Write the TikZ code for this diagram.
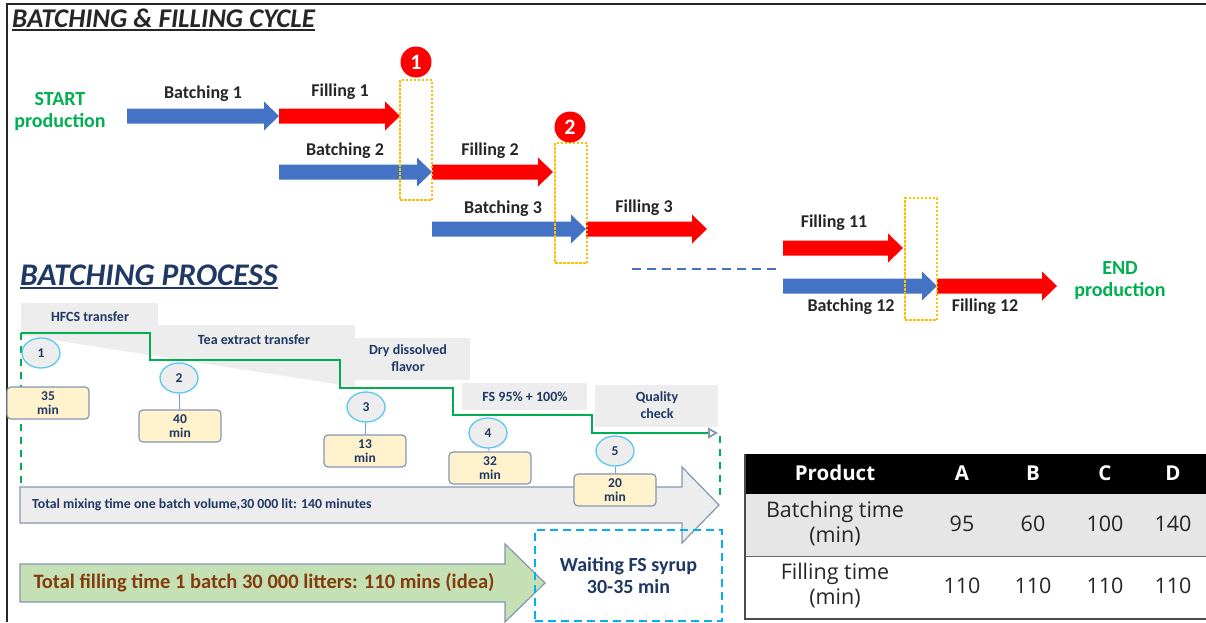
\documentclass[tikz,border=0pt]{standalone}
\usepackage{fontspec}
\setmainfont{Carlito}
\newfontfamily\tabfont{Open Sans}
\usetikzlibrary{arrows.meta,shapes.geometric}
\definecolor{myblue}{HTML}{4472C4}
\definecolor{myred}{HTML}{FF0000}
\definecolor{mygreen}{HTML}{00B050}
\definecolor{mynavy}{HTML}{1F3864}
\definecolor{mylgray}{HTML}{EDEDED}
\definecolor{myyellow}{HTML}{FFF2CC}
\definecolor{myborder}{HTML}{8497B0}
\definecolor{mycyan}{HTML}{5BC8F0}
\definecolor{myorange}{HTML}{FFC000}
\definecolor{myfillgreen}{HTML}{C5E0B4}
\definecolor{mybrown}{HTML}{843C0C}
\definecolor{mytabgray}{HTML}{E7E6E6}
\definecolor{mytxt}{HTML}{262626}
\definecolor{mywait}{HTML}{00B0F0}
\newcommand{\blkarrow}[4]{\fill[#1] (#2,#4-7.5) -- (#3-15,#4-7.5) -- (#3-15,#4-14.5) -- (#3,#4) -- (#3-15,#4+14.5) -- (#3-15,#4+7.5) -- (#2,#4+7.5) -- cycle;}
\begin{document}
\begin{tikzpicture}[x=1pt,y=-1pt,
  lbl/.style={font=\fontsize{18}{20}\selectfont\bfseries, text=mytxt, inner sep=0},
  greentxt/.style={font=\fontsize{20}{22}\selectfont\bfseries, text=mygreen, align=center, inner sep=0},
  redcirc/.style={circle, fill=myred, minimum size=31, inner sep=0, text=white, font=\fontsize{22}{24}\selectfont\bfseries},
  waitbox/.style={draw=myorange, line width=1.3, dash pattern=on 2.5pt off 1.5pt, minimum width=32, inner sep=0},
  graylbl/.style={font=\fontsize{14}{17}\selectfont\bfseries, text=mynavy, align=center, inner sep=0},
  stepcirc/.style={ellipse, draw=mycyan, fill=mylgray, line width=1.3, minimum width=38, minimum height=30, inner sep=0, text=mynavy, font=\fontsize{13.5}{15}\selectfont\bfseries},
  timebox/.style={draw=myborder, fill=myyellow, rounded corners=4, line width=1.2, minimum width=82, minimum height=32, inner sep=0, align=center, text=mynavy, font=\fontsize{13.5}{14.5}\selectfont\bfseries},
  tabtxt/.style={font=\tabfont\fontsize{21.5}{25}\selectfont, text=mytxt, align=center, inner sep=0},
  tabhead/.style={font=\tabfont\fontsize{20.5}{22}\selectfont\bfseries, text=white, inner sep=0}
]
\useasboundingbox (0,0) rectangle (1206,622);
% frame
\draw[line width=1.5, black!85] (7,622) -- (7,4) -- (1206,4);
% title
\node[anchor=base west, inner sep=0, font=\fontsize{27}{30}\selectfont\bfseries\itshape, text=mytxt] (title) at (12,27) {BATCHING \& FILLING CYCLE};
\draw[line width=1.3, mytxt] ([yshift=-3pt]title.base west) -- ([yshift=-3pt]title.base east);
% start / end
\node[greentxt] (start) at (60,112) {START\\production};
\node[greentxt] (end) at (1120,281) {END\\production};
% top arrows
\blkarrow{myblue}{127}{279}{116}
\blkarrow{myred}{279}{400}{116}
\blkarrow{myblue}{279}{432}{172}
\blkarrow{myred}{432}{553}{172}
\blkarrow{myblue}{432}{586}{229}
\blkarrow{myred}{586}{707}{229}
\blkarrow{myred}{783}{903}{248}
\blkarrow{myblue}{783}{937}{286}
\blkarrow{myred}{937}{1057}{286}
\node[lbl] (lb1) at (203,94) {Batching 1};
\node[lbl] (lf1) at (340,92) {Filling 1};
\node[lbl] (lb2) at (345,151) {Batching 2};
\node[lbl] (lf2) at (490,151) {Filling 2};
\node[lbl] (lb3) at (503,209) {Batching 3};
\node[lbl] (lf3) at (644,208) {Filling 3};
\node[lbl] (lf11) at (834,223) {Filling 11};
\node[lbl] (lb12) at (851,307) {Batching 12};
\node[lbl] (lf12) at (985,307) {Filling 12};
% dashed overlap boxes
\node[waitbox, minimum height=120] (w1) at (416,140) {};
\node[waitbox, minimum height=120] (w2) at (571,203) {};
\node[waitbox, minimum height=122] (w3) at (921,259) {};
\node[redcirc] (r1) at (416,62) {1};
\node[redcirc] (r2) at (570,127) {2};
% dashed continuation
\coordinate (d1) at (632,269);
\coordinate (d2) at (777,269);
\draw[myblue, line width=1.5, dash pattern=on 9pt off 6pt] (d1) -- (d2);
% batching process title
\node[anchor=base west, inner sep=0, font=\fontsize{31.5}{34}\selectfont\bfseries\itshape, text=mynavy] (bp) at (20,285) {BATCHING PROCESS};
\draw[line width=1.3, mynavy] ([yshift=-3pt]bp.base west) -- ([yshift=-3pt]bp.base east);
% gray label shapes
\fill[mylgray] (21,303) -- (158,303) -- (158,325) -- (355,325) -- (355,338) -- (470,338) -- (470,380) -- (355,380) -- (355,387) -- (21,335) -- cycle;
\fill[mylgray] (462,383) rectangle (587,410);
\fill[mylgray] (595,385) rectangle (718,427);
\node[graylbl] (g1) at (90,317) {HFCS transfer};
\node[graylbl] (g2) at (254,340) {Tea extract transfer};
\node[graylbl] (g3) at (408,358) {Dry dissolved\\flavor};
\node[graylbl] (g4) at (525,397) {FS 95\% + 100\%};
\node[graylbl] (g5) at (657,405) {Quality\\check};
% green step line
\coordinate (s0) at (21,333);
\coordinate (s1) at (150,360);
\coordinate (s2) at (340,388);
\coordinate (s3) at (453,415);
\coordinate (s4) at (592,433);
\coordinate (s5) at (718,433);
\draw[mygreen, line width=1.8, -{Triangle[open, length=10pt, width=11pt, color=myborder]}] (s0) -| (s1) -| (s2) -| (s3) -| (s4) -- (s5);
\coordinate (gl) at (21,490);
\coordinate (gr0) at (720,436);
\coordinate (gr) at (720,500);
\draw[mygreen, line width=1.8, dash pattern=on 7pt off 6pt] (s0) -- (gl);
\draw[mygreen, line width=1.8, dash pattern=on 7pt off 6pt] (gr0) -- (gr);
% mixing arrow
\draw[fill=mylgray, draw=myborder, line width=1.2] (20,487) -- (682,487) -- (682,467) -- (719,505) -- (682,543) -- (682,523) -- (20,523) -- cycle;
\node[anchor=west, inner sep=0, font=\fontsize{13.8}{15}\selectfont\bfseries, text=mynavy] (mix) at (32,505) {Total mixing time one batch volume,30 000 lit: 140 minutes};
% step circles and time boxes
\node[stepcirc] (c1) at (41,353) {1};
\node[stepcirc] (c2) at (179,378) {2};
\node[stepcirc] (c3) at (366,407) {3};
\node[stepcirc] (c4) at (488,433) {4};
\node[stepcirc] (c5) at (615,451) {5};
\node[timebox] (t1) at (48,403) {35\\min};
\node[timebox] (t2) at (180,426) {40\\min};
\node[timebox] (t3) at (365,451) {13\\min};
\node[timebox] (t4) at (490,468) {32\\min};
\node[timebox] (t5) at (615,490) {20\\min};
\draw[myblue!70, line width=0.9] (c2) -- (t2);
\draw[myblue!70, line width=0.9] (c3) -- (t3);
\draw[myblue!70, line width=0.9] (c4) -- (t4);
\draw[myblue!70, line width=0.9] (c5) -- (t5);
% filling arrow
\draw[fill=myfillgreen, draw=myborder, line width=1.2] (20,564) -- (505,564) -- (505,544) -- (545,583) -- (505,622) -- (505,602) -- (20,602) -- cycle;
\node[inner sep=0, font=\fontsize{20.5}{22}\selectfont\bfseries, text=mybrown] (fill) at (264,583) {Total filling time 1 batch 30 000 litters: 110 mins (idea)};
% waiting box
\node[draw=mywait, line width=2, dash pattern=on 8pt off 5pt, minimum width=187, minimum height=91, inner sep=0, align=center, text=mynavy, font=\fontsize{20}{22}\selectfont\bfseries] (wait) at (628.5,575.5) {Waiting FS syrup\\30-35 min};
% table
\fill[black] (745,454) rectangle (1206,494);
\fill[mytabgray] (745,494) rectangle (1206,556);
\draw[black!60, line width=1] (745,556) -- (1206,556);
\draw[black!70, line width=1.2] (745,454) -- (745,619) -- (1206,619);
\node[tabhead] (hp) at (835,473) {Product};
\node[tabhead] (ha) at (962,473) {A};
\node[tabhead] (hb) at (1033,473) {B};
\node[tabhead] (hc) at (1105,473) {C};
\node[tabhead] (hd) at (1173,473) {D};
\node[tabtxt] (rb) at (835,524) {Batching time\\(min)};
\node[tabtxt] (b1) at (962,524) {95};
\node[tabtxt] (b2) at (1033,524) {60};
\node[tabtxt] (b3) at (1105,524) {100};
\node[tabtxt] (b4) at (1173,524) {140};
\node[tabtxt] (rf) at (835,586) {Filling time\\(min)};
\node[tabtxt] (f1) at (962,586) {110};
\node[tabtxt] (f2) at (1033,586) {110};
\node[tabtxt] (f3) at (1105,586) {110};
\node[tabtxt] (f4) at (1173,586) {110};
\end{tikzpicture}
\end{document}
